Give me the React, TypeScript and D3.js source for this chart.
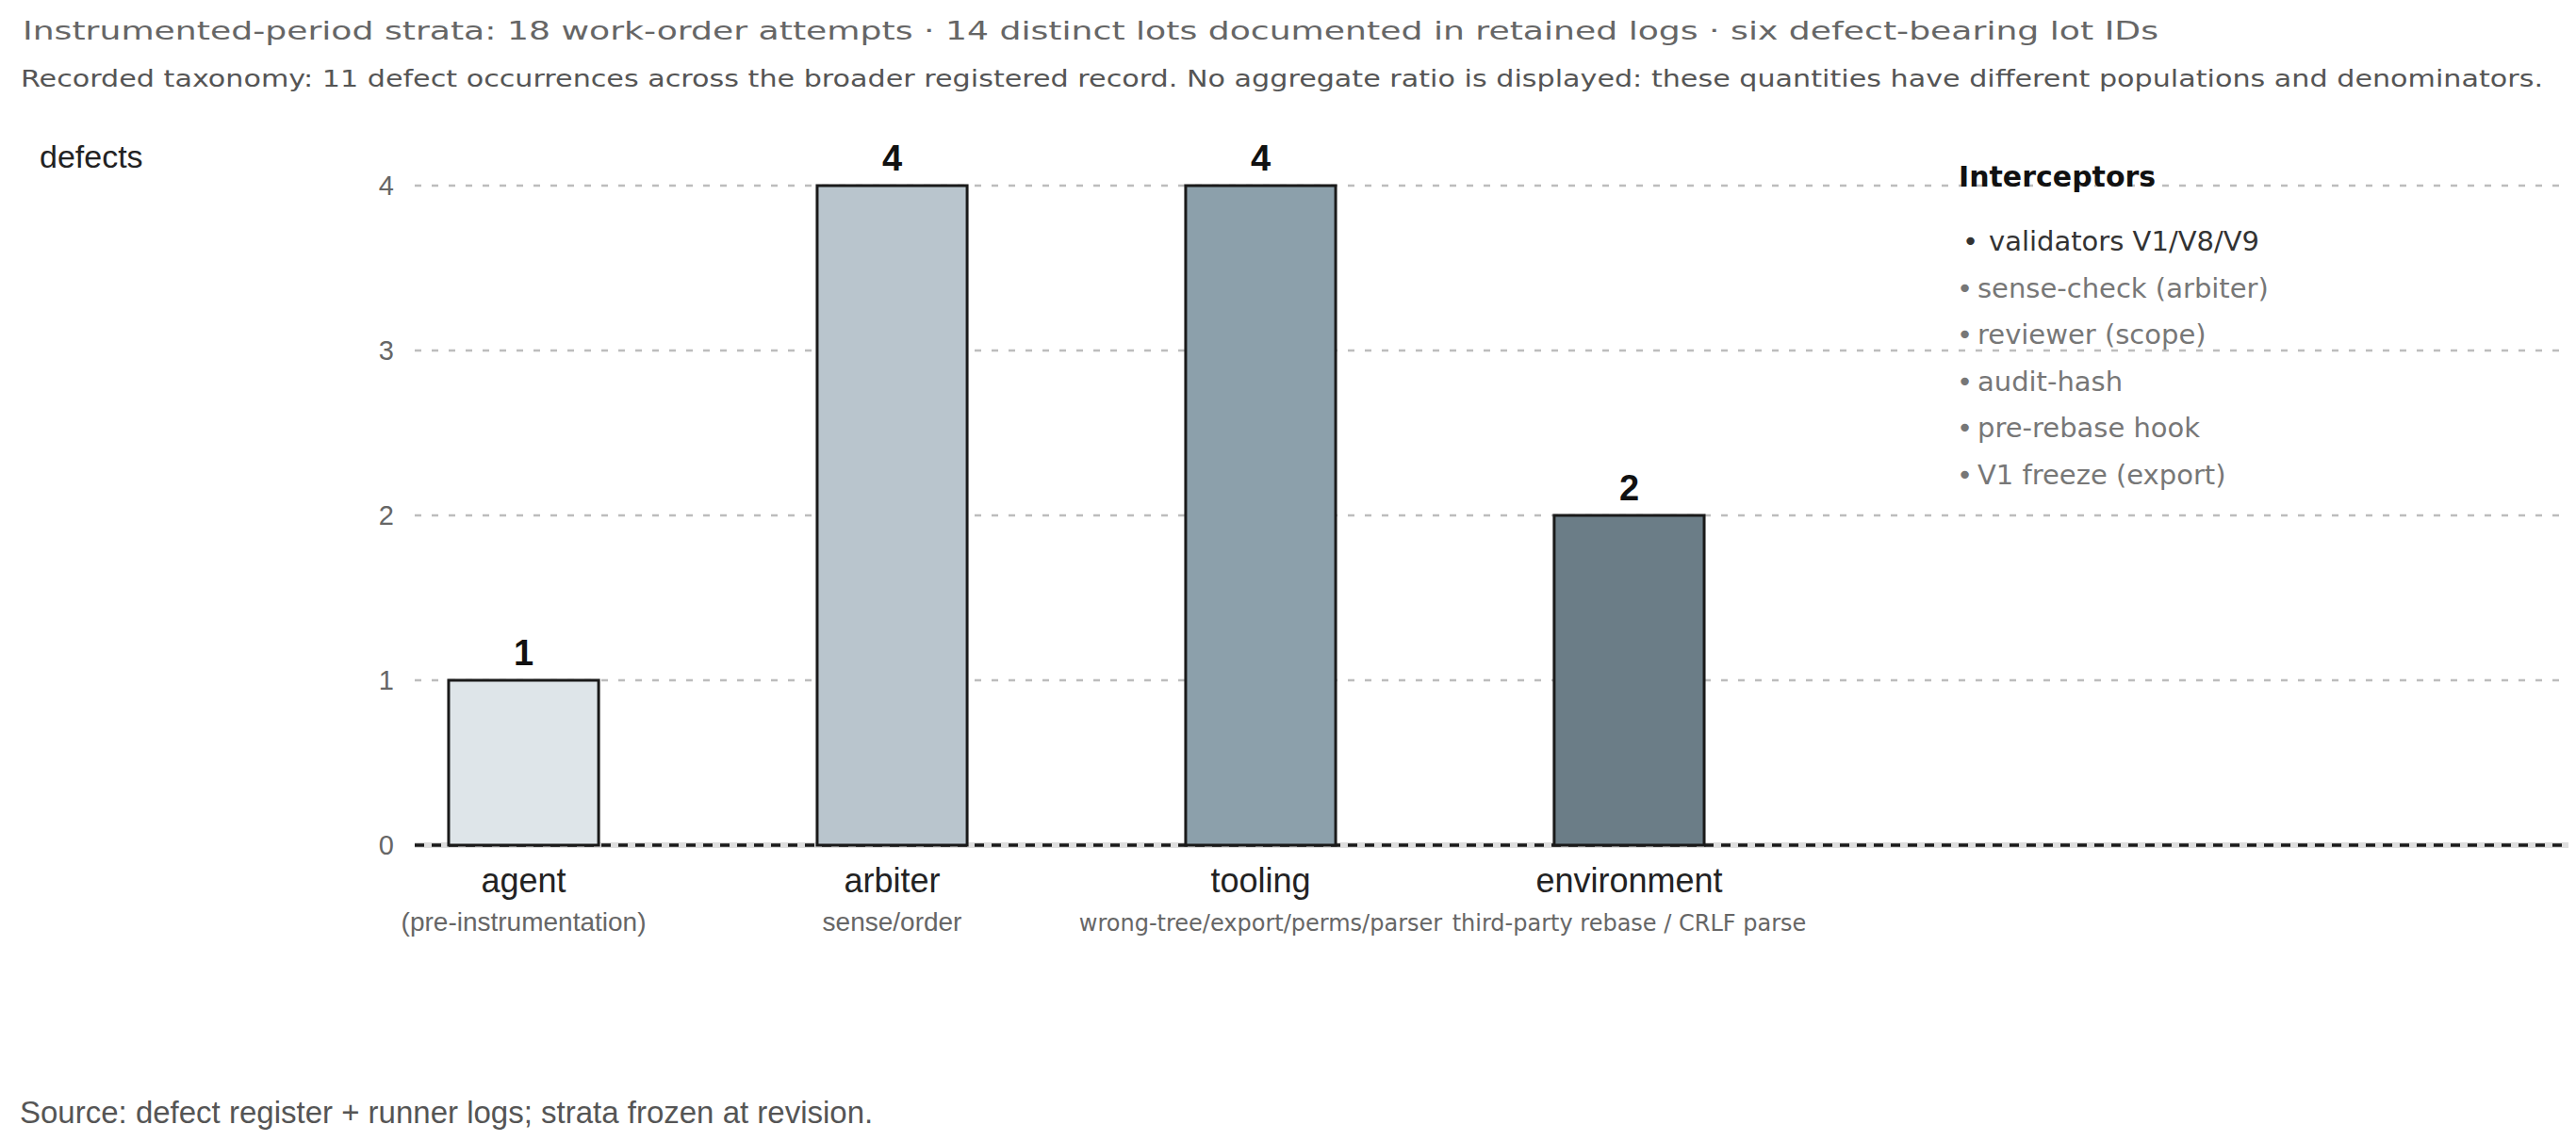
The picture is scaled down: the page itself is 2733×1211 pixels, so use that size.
import React from 'react';
import * as d3 from 'd3';

const titleText = 'Instrumented-period strata: 18 work-order attempts · 14 distinct lots documented in retained logs · six defect-bearing lot IDs';
const subtitleText = 'Recorded taxonomy: 11 defect occurrences across the broader registered record. No aggregate ratio is displayed: these quantities have different populations and denominators.';
const footerText = 'Source: defect register + runner logs; strata frozen at revision.';
const yAxisLabel = 'defects';

const categories = ['agent', 'arbiter', 'tooling', 'environment'];
const subLabels = ['(pre-instrumentation)', 'sense/order', 'wrong-tree/export/perms/parser', 'third-party rebase / CRLF parse'];
const defects = [1, 4, 4, 2];
const barColors = ['#dee5e9', '#b9c5cd', '#8ca0ab', '#6b7d87'];
const yTicks = [0, 1, 2, 3, 4];

const legendTitle = 'Interceptors';
const interceptors = ['validators V1/V8/V9', 'sense-check (arbiter)', 'reviewer (scope)', 'audit-hash', 'pre-rebase hook', 'V1 freeze (export)'];

const W = 2733;
const H = 1211;

export default function App() {
  const y = d3.scaleLinear().domain([0, 4]).range([897, 197]);
  const x = d3.scaleBand<string>().domain(categories).range([440, 1844]).paddingInner(0.593).paddingOuter(0.092);
  const gridX0 = 440;
  const gridX1 = 2725;
  const sans = '"Liberation Sans", Arial, sans-serif';
  const dv = '"DejaVu Sans", sans-serif';
  const longSub = (i: number) => i >= 2;

  return (
    <svg width={W} height={H} style={{ position: 'absolute', left: 0, top: 0, background: '#fff' }}>
      <text x={24} y={42} fontFamily={dv} fontSize={27} fill="#666" textLength={2266} lengthAdjust="spacingAndGlyphs">{titleText}</text>
      <text x={22} y={92} fontFamily={dv} fontSize={24.5} fill="#555" textLength={2676} lengthAdjust="spacingAndGlyphs">{subtitleText}</text>

      <text x={42} y={178} fontFamily={sans} fontSize={34} fill="#222">{yAxisLabel}</text>

      {yTicks.map((t) => (
        <g key={t}>
          <text x={418} y={y(t) + 10} textAnchor="end" fontFamily={sans} fontSize={29} fill="#666">{t}</text>
          {t !== 0 && (
            <line x1={gridX0} x2={gridX1} y1={y(t)} y2={y(t)} stroke="#bdbdbd" strokeWidth={2.5} strokeDasharray="7,11" />
          )}
        </g>
      ))}

      <line x1={gridX0} x2={gridX1} y1={y(0)} y2={y(0)} stroke="#dedede" strokeWidth={6} />
      <line x1={gridX0} x2={gridX1} y1={y(0)} y2={y(0)} stroke="#1a1a1a" strokeWidth={3.5} strokeDasharray="10,8" />

      {categories.map((c, i) => {
        const bx = x(c) as number;
        const bw = x.bandwidth();
        const cx = bx + bw / 2;
        return (
          <g key={c}>
            <rect x={bx} y={y(defects[i])} width={bw} height={y(0) - y(defects[i])} fill={barColors[i]} stroke="#1a1a1a" strokeWidth={3} />
            <text x={cx} y={y(defects[i]) - 16} textAnchor="middle" fontFamily={sans} fontWeight="bold" fontSize={38} fill="#111">{defects[i]}</text>
            <text x={cx} y={947} textAnchor="middle" fontFamily={sans} fontSize={36} fill="#222">{c}</text>
            <text x={cx} y={988} textAnchor="middle" fontFamily={longSub(i) ? dv : sans} fontSize={longSub(i) ? 24 : 28} fill="#666">{subLabels[i]}</text>
          </g>
        );
      })}

      <text x={2078} y={198} fontFamily={dv} fontWeight="bold" fontSize={30} fill="#111">{legendTitle}</text>
      {interceptors.map((s, i) => {
        const ly = 266 + i * 49.5;
        const first = i === 0;
        return (
          <g key={s}>
            <text x={first ? 2082 : 2076} y={ly} fontFamily={dv} fontSize={29} fill={first ? '#333' : '#777'}>•</text>
            <text x={first ? 2110 : 2098} y={ly} fontFamily={dv} fontSize={29} fill={first ? '#333' : '#777'}>{s}</text>
          </g>
        );
      })}

      <text x={21} y={1192} fontFamily={sans} fontSize={33} fill="#555">{footerText}</text>
    </svg>
  );
}
